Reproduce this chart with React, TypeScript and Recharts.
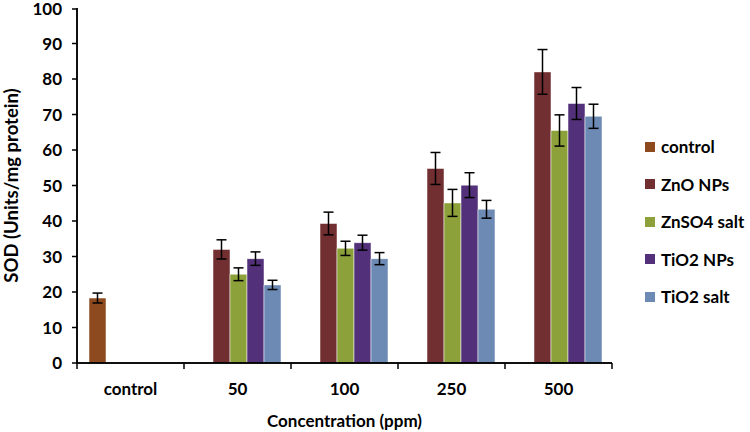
import React from 'react';
import { BarChart, Bar, XAxis, YAxis, ErrorBar, Legend, ReferenceLine } from 'recharts';

const categories = ['control', '50', '100', '250', '500'];
const controlVals = [18.3, null, null, null, null];
const controlErr = [1.4, 0, 0, 0, 0];
const znoVals = [null, 32.0, 39.3, 54.8, 82.0];
const znoErr = [0, 2.7, 3.2, 4.5, 6.3];
const znso4Vals = [null, 25.0, 32.3, 45.1, 65.5];
const znso4Err = [0, 1.8, 2.0, 3.8, 4.4];
const tio2NpVals = [null, 29.4, 33.9, 50.1, 73.1];
const tio2NpErr = [0, 1.9, 2.1, 3.5, 4.5];
const tio2SaltVals = [null, 22.0, 29.4, 43.3, 69.5];
const tio2SaltErr = [0, 1.3, 1.7, 2.5, 3.4];
const yTicks = [0, 10, 20, 30, 40, 50, 60, 70, 80, 90, 100];

const seriesNames = ['control', 'ZnO NPs', 'ZnSO4 salt', 'TiO2 NPs', 'TiO2 salt'];
const seriesColors = ['#8E4A1F', '#722F31', '#8CA13A', '#52317A', '#6C8AB4'];

const data = categories.map((c, i) => ({
  cat: c,
  control: controlVals[i],
  controlErr: controlErr[i],
  zno: znoVals[i],
  znoErr: znoErr[i],
  znso4: znso4Vals[i],
  znso4Err: znso4Err[i],
  tio2np: tio2NpVals[i],
  tio2npErr: tio2NpErr[i],
  tio2salt: tio2SaltVals[i],
  tio2saltErr: tio2SaltErr[i],
}));

const keys = ['control', 'zno', 'znso4', 'tio2np', 'tio2salt'];

const FONT = 'Lato, "Open Sans", sans-serif';
const X_TICK_MARGIN = 20;
const Y_TICK_MARGIN = 15;
const TICK_LEN = 6;

const XTick = (props: any) => {
  const { x, y, payload, width, visibleTicksCount, index } = props;
  const half = payload && typeof payload.offset === 'number' && payload.offset > 0 ? payload.offset : width / visibleTicksCount / 2;
  const axisY = y - X_TICK_MARGIN;
  return (
    <g>
      <line x1={x - half} x2={x - half} y1={axisY} y2={axisY + TICK_LEN} stroke="#000" strokeWidth={1.5} />
      {index === visibleTicksCount - 1 && (
        <line x1={x + half} x2={x + half} y1={axisY} y2={axisY + TICK_LEN} stroke="#000" strokeWidth={1.5} />
      )}
      <text x={x} y={y} dy="0.71em" textAnchor="middle" fill="#000" fontSize={17} fontWeight={700} fontFamily={FONT}>
        {payload.value}
      </text>
    </g>
  );
};

const YTick = (props: any) => {
  const { x, y, payload } = props;
  const axisX = x + Y_TICK_MARGIN;
  return (
    <g>
      <line x1={axisX - 5} x2={axisX} y1={y} y2={y} stroke="#000" strokeWidth={1.5} />
      <text x={x} y={y} dy="0.355em" textAnchor="end" fill="#000" fontSize={17} fontWeight={700} fontFamily={FONT}>
        {payload.value}
      </text>
    </g>
  );
};

const renderLegend = () => (
  <div style={{ fontFamily: FONT, fontWeight: 700, fontSize: 17, color: '#000', lineHeight: 1 }}>
    {seriesNames.map((n, i) => (
      <div key={n} style={{ display: 'flex', alignItems: 'center', height: 37.5 }}>
        <span style={{ display: 'inline-block', width: 10, height: 10, background: seriesColors[i], marginRight: 6 }} />
        <span>{n}</span>
      </div>
    ))}
  </div>
);

export default function App() {
  return (
    <div style={{ position: 'absolute', left: 0, top: 0, width: 750, height: 432, background: '#fff' }}>
      <BarChart
        width={750}
        height={432}
        data={data}
        margin={{ top: 8, right: 138, bottom: 0, left: 0 }}
        barCategoryGap={12}
        barGap={0}
      >
        <XAxis
          dataKey="cat"
          tickLine={false}
          tickSize={0}
          tickMargin={X_TICK_MARGIN}
          axisLine={{ stroke: '#000', strokeWidth: 1.5 }}
          height={69}
          interval={0}
          tick={<XTick />}
          label={{ value: 'Concentration (ppm)', position: 'insideBottom', offset: 5, fill: '#000', fontSize: 17, fontWeight: 700, fontFamily: FONT }}
        />
        <YAxis
          domain={[0, 100]}
          ticks={yTicks}
          width={77}
          tickSize={0}
          tickMargin={Y_TICK_MARGIN}
          tickLine={false}
          axisLine={{ stroke: '#000', strokeWidth: 1.5 }}
          tick={<YTick />}
          label={{ value: 'SOD (Units/mg protein)', angle: -90, position: 'insideLeft', offset: 11, fill: '#000', fontSize: 18.5, fontWeight: 700, fontFamily: FONT, style: { textAnchor: 'middle' } }}
        />
        <Legend
          layout="horizontal"
          align="center"
          verticalAlign="middle"
          content={renderLegend}
          wrapperStyle={{ left: 645, top: 128, width: 105 }}
        />
        {keys.map((k, i) => (
          <Bar key={k} dataKey={k} name={seriesNames[i]} fill={seriesColors[i]} stroke="rgba(255,255,255,0.5)" strokeWidth={1} isAnimationActive={false}>
            <ErrorBar dataKey={`${k}Err`} width={5} stroke="#000" strokeWidth={1.5} direction="y" />
          </Bar>
        ))}
        <ReferenceLine y={0} stroke="#000" strokeWidth={1.5} ifOverflow="visible" />
        <ReferenceLine x="control" position="start" stroke="#000" strokeWidth={1.5} ifOverflow="visible" />
      </BarChart>
    </div>
  );
}
